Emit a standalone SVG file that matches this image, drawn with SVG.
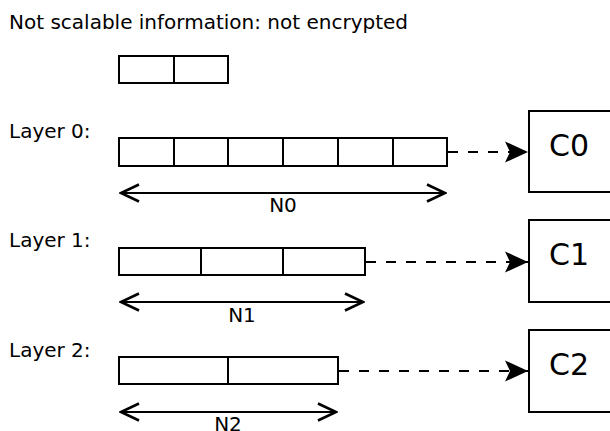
<svg xmlns="http://www.w3.org/2000/svg" width="610" height="431" viewBox="0 0 610 431">
<defs>
<marker id="tri" viewBox="0 0 23 22" refX="23" refY="11" markerWidth="23" markerHeight="22" markerUnits="userSpaceOnUse" orient="auto">
<path d="M0,0.5 L23,11 L0,21.5 L5,11 Z" fill="#000"/>
</marker>
<marker id="chev" viewBox="0 0 22 20" refX="21" refY="10" markerWidth="22" markerHeight="20" markerUnits="userSpaceOnUse" orient="auto-start-reverse">
<path d="M2,1.5 L20,10 L2,18.5" fill="none" stroke="#000" stroke-width="2.6"/>
</marker>
</defs>
<style>
.t{font-family:"DejaVu Sans",sans-serif;font-size:20px;fill:#000}
.c{font-family:"DejaVu Sans",sans-serif;font-size:30px;fill:#000}
.b{fill:#fff;stroke:#000;stroke-width:2}
.d{stroke:#000;stroke-width:2;fill:none}
.dash{stroke:#000;stroke-width:2;fill:none;stroke-dasharray:10,10}
.dim{stroke:#000;stroke-width:2;fill:none}
</style>
<rect width="610" height="431" fill="#fff"/>
<text class="t" x="9" y="29">Not scalable information: not encrypted</text>
<g id="header">
<rect class="b" x="119" y="56" width="109" height="27"/>
<line class="d" x1="174" y1="56" x2="174" y2="83"/>
</g>
<g id="layer0">
<text class="t" x="9" y="138">Layer 0:</text>
<rect class="b" x="119" y="138" width="328" height="28"/>
<path class="d" d="M174,138V166M228,138V166M283,138V166M338,138V166M393,138V166"/>
<text class="t" x="283" y="212" text-anchor="middle">N0</text>
</g>
<g id="layer1">
<text class="t" x="9" y="247">Layer 1:</text>
<rect class="b" x="119" y="248" width="246" height="27"/>
<path class="d" d="M201,248V275M283,248V275"/>
<text class="t" x="242" y="322" text-anchor="middle">N1</text>
</g>
<g id="layer2">
<text class="t" x="9" y="357">Layer 2:</text>
<rect class="b" x="119" y="357" width="219" height="27"/>
<path class="d" d="M228,357V384"/>
<text class="t" x="228" y="431" text-anchor="middle">N2</text>
</g>
<g id="C0">
<rect class="b" x="529" y="111" width="90" height="81"/>
<text class="c" x="549" y="156">C0</text>
</g>
<g id="C1">
<rect class="b" x="529" y="220" width="90" height="82"/>
<text class="c" x="549" y="265">C1</text>
</g>
<g id="C2">
<rect class="b" x="529" y="330" width="90" height="82"/>
<text class="c" x="549" y="375">C2</text>
</g>
<g id="connectors">
<line class="dash" x1="448" y1="152" x2="528" y2="152" marker-end="url(#tri)"/>
<line class="dash" x1="366" y1="262" x2="528" y2="262" marker-end="url(#tri)"/>
<line class="dash" x1="339" y1="371" x2="528" y2="371" marker-end="url(#tri)"/>
<line class="dim" x1="120" y1="193" x2="446" y2="193" marker-start="url(#chev)" marker-end="url(#chev)"/>
<line class="dim" x1="120" y1="302" x2="364" y2="302" marker-start="url(#chev)" marker-end="url(#chev)"/>
<line class="dim" x1="120" y1="412" x2="337" y2="412" marker-start="url(#chev)" marker-end="url(#chev)"/>
</g>
</svg>
